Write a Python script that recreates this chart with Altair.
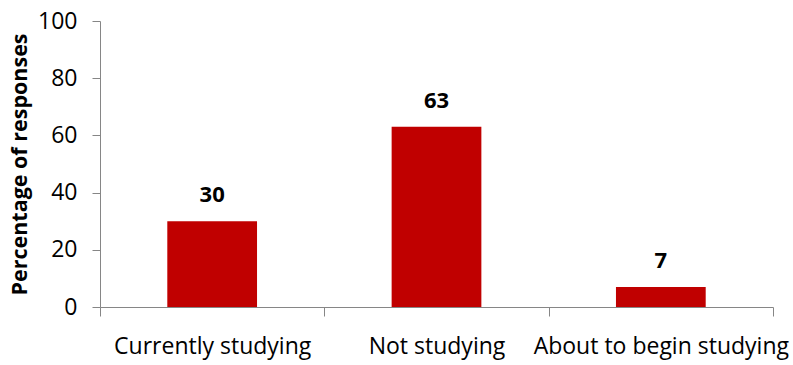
import altair as alt
import pandas as pd

categories = ["Currently studying", "Not studying", "About to begin studying"]
percentages = [30, 63, 7]

df = pd.DataFrame({"status": categories, "pct": percentages})

FONT = "Open Sans"
BAR = "#C00000"
AXIS_GREY = "#868686"

# Bands without padding so the axis ticks fall on category boundaries;
# the bars themselves take 40% of each band, centred.
x_enc = alt.X(
    "status:N",
    sort=categories,
    scale=alt.Scale(paddingInner=0, paddingOuter=0),
    axis=alt.Axis(
        title=None,
        labelAngle=0,
        labelFont=FONT,
        labelFontSize=23,
        labelColor="#000000",
        labelPadding=19,
        labelLimit=400,
        tickBand="extent",
        tickSize=9,
        tickColor=AXIS_GREY,
        domainColor=AXIS_GREY,
        grid=False,
    ),
)

y_enc = alt.Y(
    "pct:Q",
    scale=alt.Scale(domain=[0, 100]),
    axis=alt.Axis(
        title="Percentage of responses",
        titleFont=FONT,
        titleFontSize=21.5,
        titleFontWeight="bold",
        titleColor="#000000",
        titlePadding=6,
        values=[0, 20, 40, 60, 80, 100],
        labelFont=FONT,
        labelFontSize=23,
        labelColor="#000000",
        labelPadding=15,
        tickSize=8,
        tickColor=AXIS_GREY,
        domainColor=AXIS_GREY,
        grid=False,
    ),
)

bars = alt.Chart(df).mark_bar(color=BAR, width={"band": 0.4}).encode(x=x_enc, y=y_enc)

labels = alt.Chart(df).mark_text(
    font=FONT, fontSize=22, fontWeight="bold", color="#000000",
    baseline="alphabetic", dy=-19,
).encode(x=alt.X("status:N", sort=categories), y="pct:Q", text="pct:Q")

chart = (
    alt.layer(bars, labels)
    .properties(
        width=673,
        height=286,
        autosize=alt.AutoSizeParams(type="none"),
        padding={"left": 100, "top": 21, "right": 20, "bottom": 58},
        background="#ffffff",
    )
    .configure_view(stroke=None)
)

chart.save("out.html", embed_options={"renderer": "svg", "actions": False})
